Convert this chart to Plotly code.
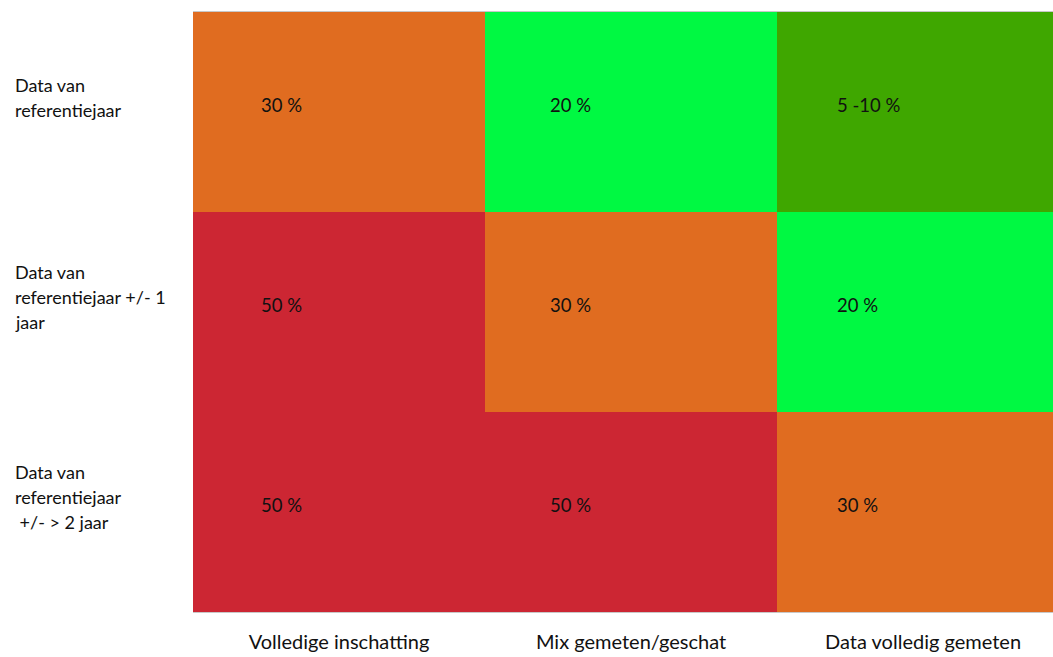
import plotly.graph_objects as go

# Categories
columns = ["Volledige inschatting", "Mix gemeten/geschat", "Data volledig gemeten"]
rows = [
    "Data van\nreferentiejaar",
    "Data van\nreferentiejaar +/- 1\njaar",
    "Data van\nreferentiejaar\n +/- > 2 jaar",
]

# Uncertainty per cell (lower and upper bound, in %)
uncertainty_low = [
    [30, 20, 5],
    [50, 30, 20],
    [50, 50, 30],
]
uncertainty_high = [
    [30, 20, 10],
    [50, 30, 20],
    [50, 50, 30],
]

ORANGE = "#E06C20"
GREEN = "#00F942"
DARK_GREEN = "#3FA700"
RED = "#CC2633"

colorscale = [
    [0.0, DARK_GREEN], [0.3, DARK_GREEN],
    [0.3, GREEN], [0.5, GREEN],
    [0.5, ORANGE], [0.8, ORANGE],
    [0.8, RED], [1.0, RED],
]


def label(lo, hi):
    return f"{lo} %" if lo == hi else f"{lo} -{hi} %"


text = [[label(lo, hi) for lo, hi in zip(rl, rh)]
        for rl, rh in zip(uncertainty_low, uncertainty_high)]

fig = go.Figure(go.Heatmap(
    z=uncertainty_high,
    x=list(range(len(columns))),
    y=list(range(len(rows))),
    zmin=0, zmax=50,
    colorscale=colorscale,
    showscale=False,
    hoverinfo="skip",
))

cell_font = dict(family="Lato, Carlito, sans-serif", size=18.5, color="#111111")
row_font = dict(family="Lato, Carlito, sans-serif", size=18, color="#111111")
LINE_GAP = 25  # px between row-label lines
TEXT_INSET = [0.226, 0.215, 0.198]  # left inset of cell text, per column (cell widths)

annotations = []
for r in range(len(rows)):
    for c in range(len(columns)):
        annotations.append(dict(
            x=c - 0.5 + TEXT_INSET[c], y=r, xref="x", yref="y",
            text=text[r][c], showarrow=False,
            xanchor="left", yanchor="middle", yshift=7,
            font=cell_font,
        ))
    lines = rows[r].split("\n")
    n = len(lines)
    for k, line in enumerate(lines):
        annotations.append(dict(
            x=0, y=r, xref="paper", yref="y",
            xanchor="left", yanchor="middle", xshift=-180,
            yshift=15 + ((n - 1) / 2 - k) * LINE_GAP,
            text=line.replace(" ", "&nbsp;") if line.startswith(" ") else line,
            showarrow=False, align="left",
            font=row_font,
        ))

fig.update_layout(
    width=1053, height=657,
    margin=dict(l=193, r=0, t=12, b=45),
    paper_bgcolor="white", plot_bgcolor="white",
    annotations=annotations,
    xaxis=dict(
        range=[-0.5, 2.445],
        tickmode="array", tickvals=list(range(len(columns))), ticktext=columns,
        tickfont=dict(family="Lato, sans-serif", size=20, color="#111111"),
        showgrid=False, zeroline=False,
        showline=True, linecolor="#C8C8C8", linewidth=1, mirror=True,
        ticks="", ticklabelstandoff=12,
    ),
    yaxis=dict(
        range=[2.5, -0.5],
        showticklabels=False, showgrid=False, zeroline=False, showline=False,
    ),
)

fig.write_html("out.html")
